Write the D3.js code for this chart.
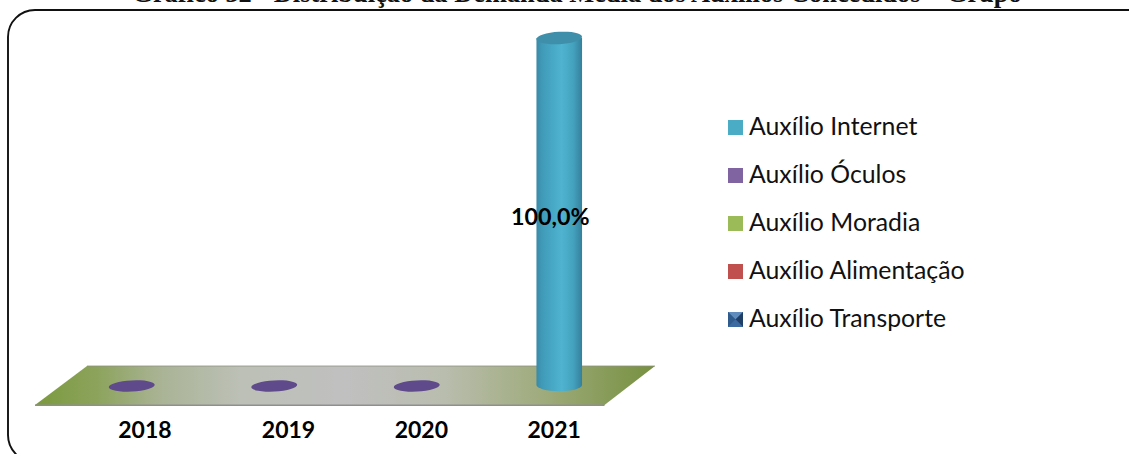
<!DOCTYPE html>
<html><head><meta charset="utf-8">
<script src="https://cdn.jsdelivr.net/npm/d3@7/dist/d3.min.js"></script>
<style>html,body{margin:0;padding:0;background:#fff;overflow:hidden}svg{display:block}</style>
</head><body><div id="c"></div>
<script>
const titleText = "Gráfico 32 - Distribuição da Demanda Média dos Auxílios Concedidos – Grupo";
const years = [2018, 2019, 2020, 2021];
const legendNames = ["Auxílio Internet", "Auxílio Óculos", "Auxílio Moradia", "Auxílio Alimentação", "Auxílio Transporte"];
const legendColors = ["#4bacc6", "#8064a2", "#9bbb59", "#c0504d", "#3f6797"];
const internetValues = [null, null, null, 100];
const oculosValues = [0, 0, 0, null];
const dataLabels = [null, null, null, "100,0%"];

const W = 1129, H = 454;
const svg = d3.select("#c").append("svg").attr("width", W).attr("height", H);
const defs = svg.append("defs");

function grad(id, stops) {
  const g = defs.append("linearGradient").attr("id", id);
  stops.forEach(s => g.append("stop").attr("offset", s[0]).attr("stop-color", s[1]));
}
grad("floorG", [[0,"#7b9a3e"],[0.1,"#8ca35c"],[0.2,"#a9b394"],[0.33,"#bcc0b6"],[0.5,"#c0c0c0"],[0.66,"#b9bdae"],[0.82,"#9fab7c"],[1,"#76903f"]]);
grad("cylG", [[0,"#3a8aa8"],[0.12,"#3f9ab8"],[0.55,"#4fb4d0"],[0.8,"#44a3bf"],[1,"#35809c"]]);

// frame (runs past the picture on the right and bottom)
svg.append("rect").attr("x", 8).attr("y", 10).attr("width", 1150).attr("height", 452)
  .attr("rx", 27).attr("ry", 27).attr("fill", "#fff").attr("stroke", "#111").attr("stroke-width", 1.9);

// title, cropped by the picture's top edge as in the reference
svg.append("text").attr("x", 577).attr("y", 1.8).attr("text-anchor", "middle")
  .attr("font-family", "'Liberation Serif'").attr("font-weight", "bold").attr("font-size", 26.4)
  .attr("fill", "#111").text(titleText);

const xBand = d3.scaleBand().domain(years).range([60.5, 630.5]);
const cx = d => xBand(d) + xBand.bandwidth() / 2;
const y = d3.scaleLinear().domain([0, 100]).range([385, 38]);
const baseY = y(0);

// floor
const floorPts = [[87,366],[655,366],[604.5,405],[35,405]];
svg.append("polygon").attr("points", floorPts.join(" ")).attr("fill", "url(#floorG)");
svg.append("line").attr("x1", 35).attr("x2", 604.5).attr("y1", 405.3).attr("y2", 405.3)
  .attr("stroke", "#8f8f8f").attr("stroke-width", 1.4);
svg.append("line").attr("x1", 87).attr("x2", 655).attr("y1", 366).attr("y2", 366)
  .attr("stroke", "#8d9180").attr("stroke-width", 0.8);

// zero-height discs
svg.append("g").selectAll("ellipse").data(years.filter((d, i) => oculosValues[i] !== null)).join("ellipse")
  .attr("transform", d => `translate(${cx(d)},${baseY + 1}) rotate(-3)`)
  .attr("rx", 23).attr("ry", 5.6).attr("fill", "#5f4a8b");

// cylinders
const rx = 22.8, ry = 6.2;
years.forEach((yr, i) => {
  const v = internetValues[i];
  if (v === null) return;
  const top = y(v), x0 = cx(yr);
  svg.append("path")
    .attr("d", `M${x0 - rx},${top} L${x0 - rx},${baseY} A${rx},${ry} 0 0 0 ${x0 + rx},${baseY} L${x0 + rx},${top} Z`)
    .attr("fill", "url(#cylG)");
  svg.append("ellipse").attr("transform", `translate(${x0},${top}) rotate(-3)`)
    .attr("rx", rx).attr("ry", ry).attr("fill", "#3f8fab");
  svg.append("text").attr("x", x0 - 9).attr("y", y(v * 0.46)).attr("text-anchor", "middle")
    .attr("font-family", "Lato").attr("font-weight", "bold").attr("font-size", 23.3)
    .attr("fill", "#000").text(dataLabels[i]);
});

// category axis; the label spacing is uneven in the picture
const xLabel = d3.scaleLinear().domain([2018, 2019, 2021]).range([144.4, 288, 553.7]);
const ax = svg.append("g").attr("transform", "translate(0,420)")
  .call(d3.axisBottom(xLabel).tickValues(years).tickFormat(d3.format("d")).tickSize(0).tickPadding(0));
ax.select(".domain").remove();
ax.selectAll("text").attr("font-family", "Lato").attr("font-weight", "bold")
  .attr("font-size", 23).attr("fill", "#000").attr("dy", 0).attr("y", 18);

// legend
const ly = d3.scalePoint().domain(legendNames).range([135, 327]);
const lg = svg.append("g").selectAll("g").data(legendNames).join("g")
  .attr("transform", d => `translate(728,${ly(d)})`);
lg.append("rect").attr("x", 0).attr("y", -15).attr("width", 15).attr("height", 15)
  .attr("fill", (d, i) => legendColors[i]);
// bevelled swatch of the last entry
const bevel = [["#5f8bbd", "0,-15 15,-15 7.5,-7.5"], ["#2f5a8c", "0,-15 7.5,-7.5 0,0"],
               ["#1f3f66", "15,-15 15,0 7.5,-7.5"], ["#3a6aa0", "0,0 15,0 7.5,-7.5"]];
lg.filter((d, i) => i === 4).selectAll("polygon").data(bevel).join("polygon")
  .attr("points", d => d[1]).attr("fill", d => d[0]);
lg.append("text").attr("x", 21).attr("y", 0)
  .attr("font-family", "Lato").attr("font-size", 24.8).attr("fill", "#111").text(d => d);
</script></body></html>
